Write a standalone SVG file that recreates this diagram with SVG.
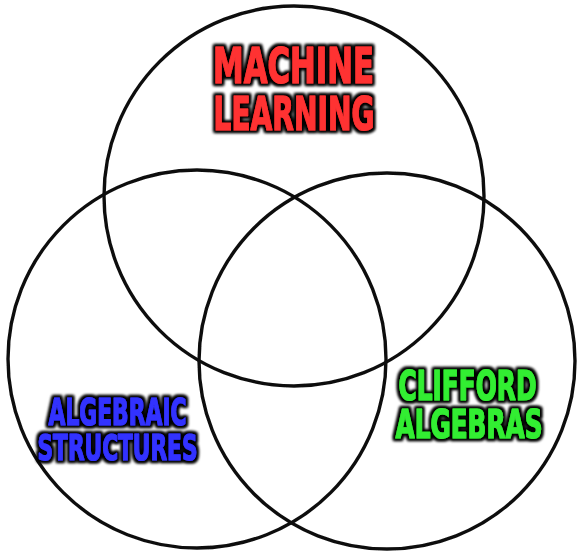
<svg xmlns="http://www.w3.org/2000/svg" width="577" height="552" viewBox="0 0 577 552">
<defs>
<filter id="glow" x="-20%" y="-40%" width="140%" height="180%">
<feMorphology in="SourceAlpha" operator="dilate" radius="2.2" result="d"/>
<feGaussianBlur in="d" stdDeviation="1.7" result="b"/>
<feFlood flood-color="#000"/>
<feComposite in2="b" operator="in" result="s"/>
<feMerge><feMergeNode in="s"/><feMergeNode in="s"/><feMergeNode in="SourceGraphic"/></feMerge>
</filter>
<filter id="soft"><feGaussianBlur stdDeviation="0.4"/></filter>
</defs>
<style>
.c{fill:none;stroke:#111;stroke-width:3.4}
.t{font-family:"Liberation Sans Narrow","DejaVu Sans Condensed","Liberation Sans",sans-serif;font-weight:bold;text-anchor:middle;filter:url(#glow);stroke-width:1.1;stroke-linejoin:round}
.r{fill:#ff3333;stroke:#ff3333}
.b{fill:#3333ff;stroke:#3333ff}
.g{fill:#33ee33;stroke:#33ee33}
</style>
<rect width="577" height="552" fill="#fff"/>
<g id="circles" filter="url(#soft)">
<circle id="ml" class="c" cx="294" cy="196" r="190"/>
<circle id="as" class="c" cx="197" cy="359" r="189"/>
<circle id="ca" class="c" cx="387" cy="361" r="188"/>
</g>
<g id="label-ml">
<text class="t r" x="293.5" y="83" font-size="50" textLength="161" lengthAdjust="spacingAndGlyphs">MACHINE</text>
<text class="t r" x="294" y="130" font-size="47" textLength="161" lengthAdjust="spacingAndGlyphs">LEARNING</text>
</g>
<g id="label-as">
<text class="t b" x="117.5" y="425" font-size="38" textLength="138" lengthAdjust="spacingAndGlyphs">ALGEBRAIC</text>
<text class="t b" x="117.5" y="460" font-size="36" textLength="160" lengthAdjust="spacingAndGlyphs">STRUCTURES</text>
</g>
<g id="label-ca">
<text class="t g" x="467.5" y="400" font-size="41" textLength="138" lengthAdjust="spacingAndGlyphs">CLIFFORD</text>
<text class="t g" x="469" y="438" font-size="39" textLength="147" lengthAdjust="spacingAndGlyphs">ALGEBRAS</text>
</g>
</svg>
